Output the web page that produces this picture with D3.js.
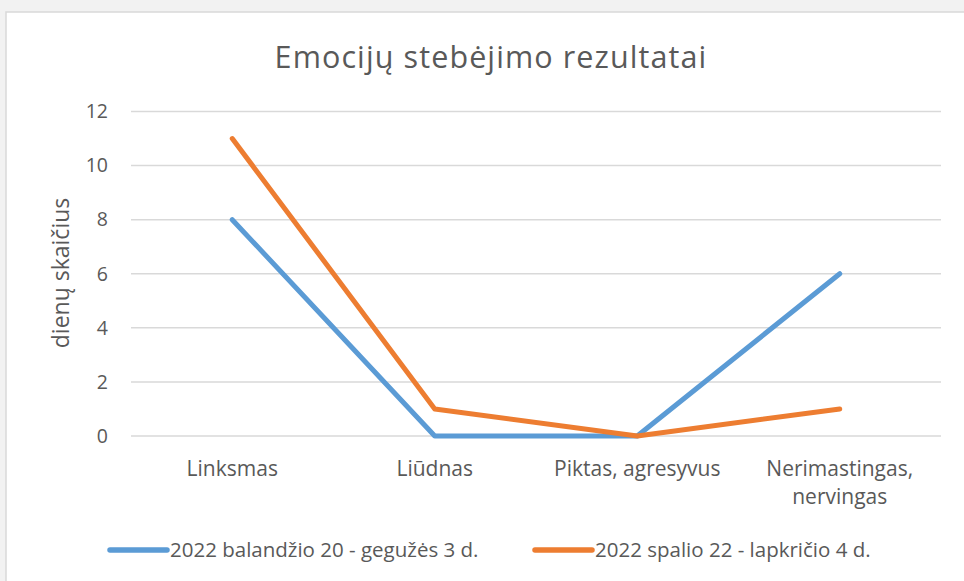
<!DOCTYPE html>
<html><head><meta charset="utf-8">
<script src="https://cdn.jsdelivr.net/npm/d3@7"></script>
<style>body{margin:0;background:#fff;} svg{display:block;}</style>
</head><body>
<svg id="c" width="964" height="581"></svg>
<script>
const title = "Emocijų stebėjimo rezultatai";
const yTitle = "dienų skaičius";
const categories = ["Linksmas", "Liūdnas", "Piktas, agresyvus", "Nerimastingas, nervingas"];
const categoryLines = [["Linksmas"], ["Liūdnas"], ["Piktas, agresyvus"], ["Nerimastingas,", "nervingas"]];
const seriesNames = ["2022 balandžio 20 - gegužės 3 d.", "2022 spalio 22 - lapkričio 4 d."];
const series1 = [8, 0, 0, 6];
const series2 = [11, 1, 0, 1];
const yTicks = [0, 2, 4, 6, 8, 10, 12];
const colors = ["#5b9bd5", "#ed7d31"];

(function(){
const svg = d3.select("#c");
const font = "'Open Sans', sans-serif";
const textColor = "#595959";

svg.append("rect").attr("x",0).attr("y",0).attr("width",964).attr("height",581).attr("fill","#f2f2f2");
svg.append("rect").attr("x",6).attr("y",12).attr("width",960).attr("height",572).attr("fill","#fff").attr("stroke","#d9d9d9").attr("stroke-width",1.5);

const pl = 131, pr = 941, pt = 111.5, pb = 436;
const x = d3.scalePoint().domain(categories).range([pl, pr]).padding(0.5);
const y = d3.scaleLinear().domain([0, 12]).range([pb, pt]);

svg.append("g").selectAll("line").data(yTicks).join("line")
  .attr("x1", pl).attr("x2", pr)
  .attr("y1", d => y(d)).attr("y2", d => y(d))
  .attr("stroke", "#d9d9d9").attr("stroke-width", 1.5);

const yAxis = d3.axisLeft(y).tickValues(yTicks).tickSize(0).tickPadding(0);
const ga = svg.append("g").attr("transform", "translate(108,0)").call(yAxis);
ga.select(".domain").remove();
ga.selectAll("text").attr("font-family", font).attr("font-size", 19.5).attr("fill", textColor);

const xg = svg.append("g");
categories.forEach((c, i) => {
  const t = xg.append("text").attr("x", x(c)).attr("y", 476)
    .attr("text-anchor", "middle").attr("font-family", font).attr("font-size", 21).attr("fill", textColor);
  categoryLines[i].forEach((ln, j) => {
    t.append("tspan").attr("x", x(c)).attr("dy", j === 0 ? 0 : 28).text(ln);
  });
});

svg.append("text").attr("x", 491).attr("y", 68).attr("text-anchor", "middle")
  .attr("font-family", font).attr("font-size", 30.5).attr("letter-spacing", 1.1).attr("fill", textColor).text(title);

svg.append("text").attr("transform", "translate(69,273) rotate(-90)").attr("text-anchor", "middle")
  .attr("font-family", font).attr("font-size", 23).attr("fill", textColor).text(yTitle);

const line = d3.line().x((d, i) => x(categories[i])).y(d => y(d));
[series1, series2].forEach((s, k) => {
  svg.append("path").datum(s).attr("d", line).attr("fill", "none")
    .attr("stroke", colors[k]).attr("stroke-width", 5).attr("stroke-linejoin", "round").attr("stroke-linecap", "round");
});

const legendX = [110, 535];
seriesNames.forEach((n, k) => {
  const g = svg.append("g");
  g.append("line").attr("x1", legendX[k]).attr("x2", legendX[k] + 57).attr("y1", 550).attr("y2", 550)
    .attr("stroke", colors[k]).attr("stroke-width", 5.5).attr("stroke-linecap", "round");
  g.append("text").attr("x", legendX[k] + 60).attr("y", 557).attr("font-family", font).attr("font-size", 20.5)
    .attr("fill", textColor).text(n);
});
})();
</script>
</body></html>
